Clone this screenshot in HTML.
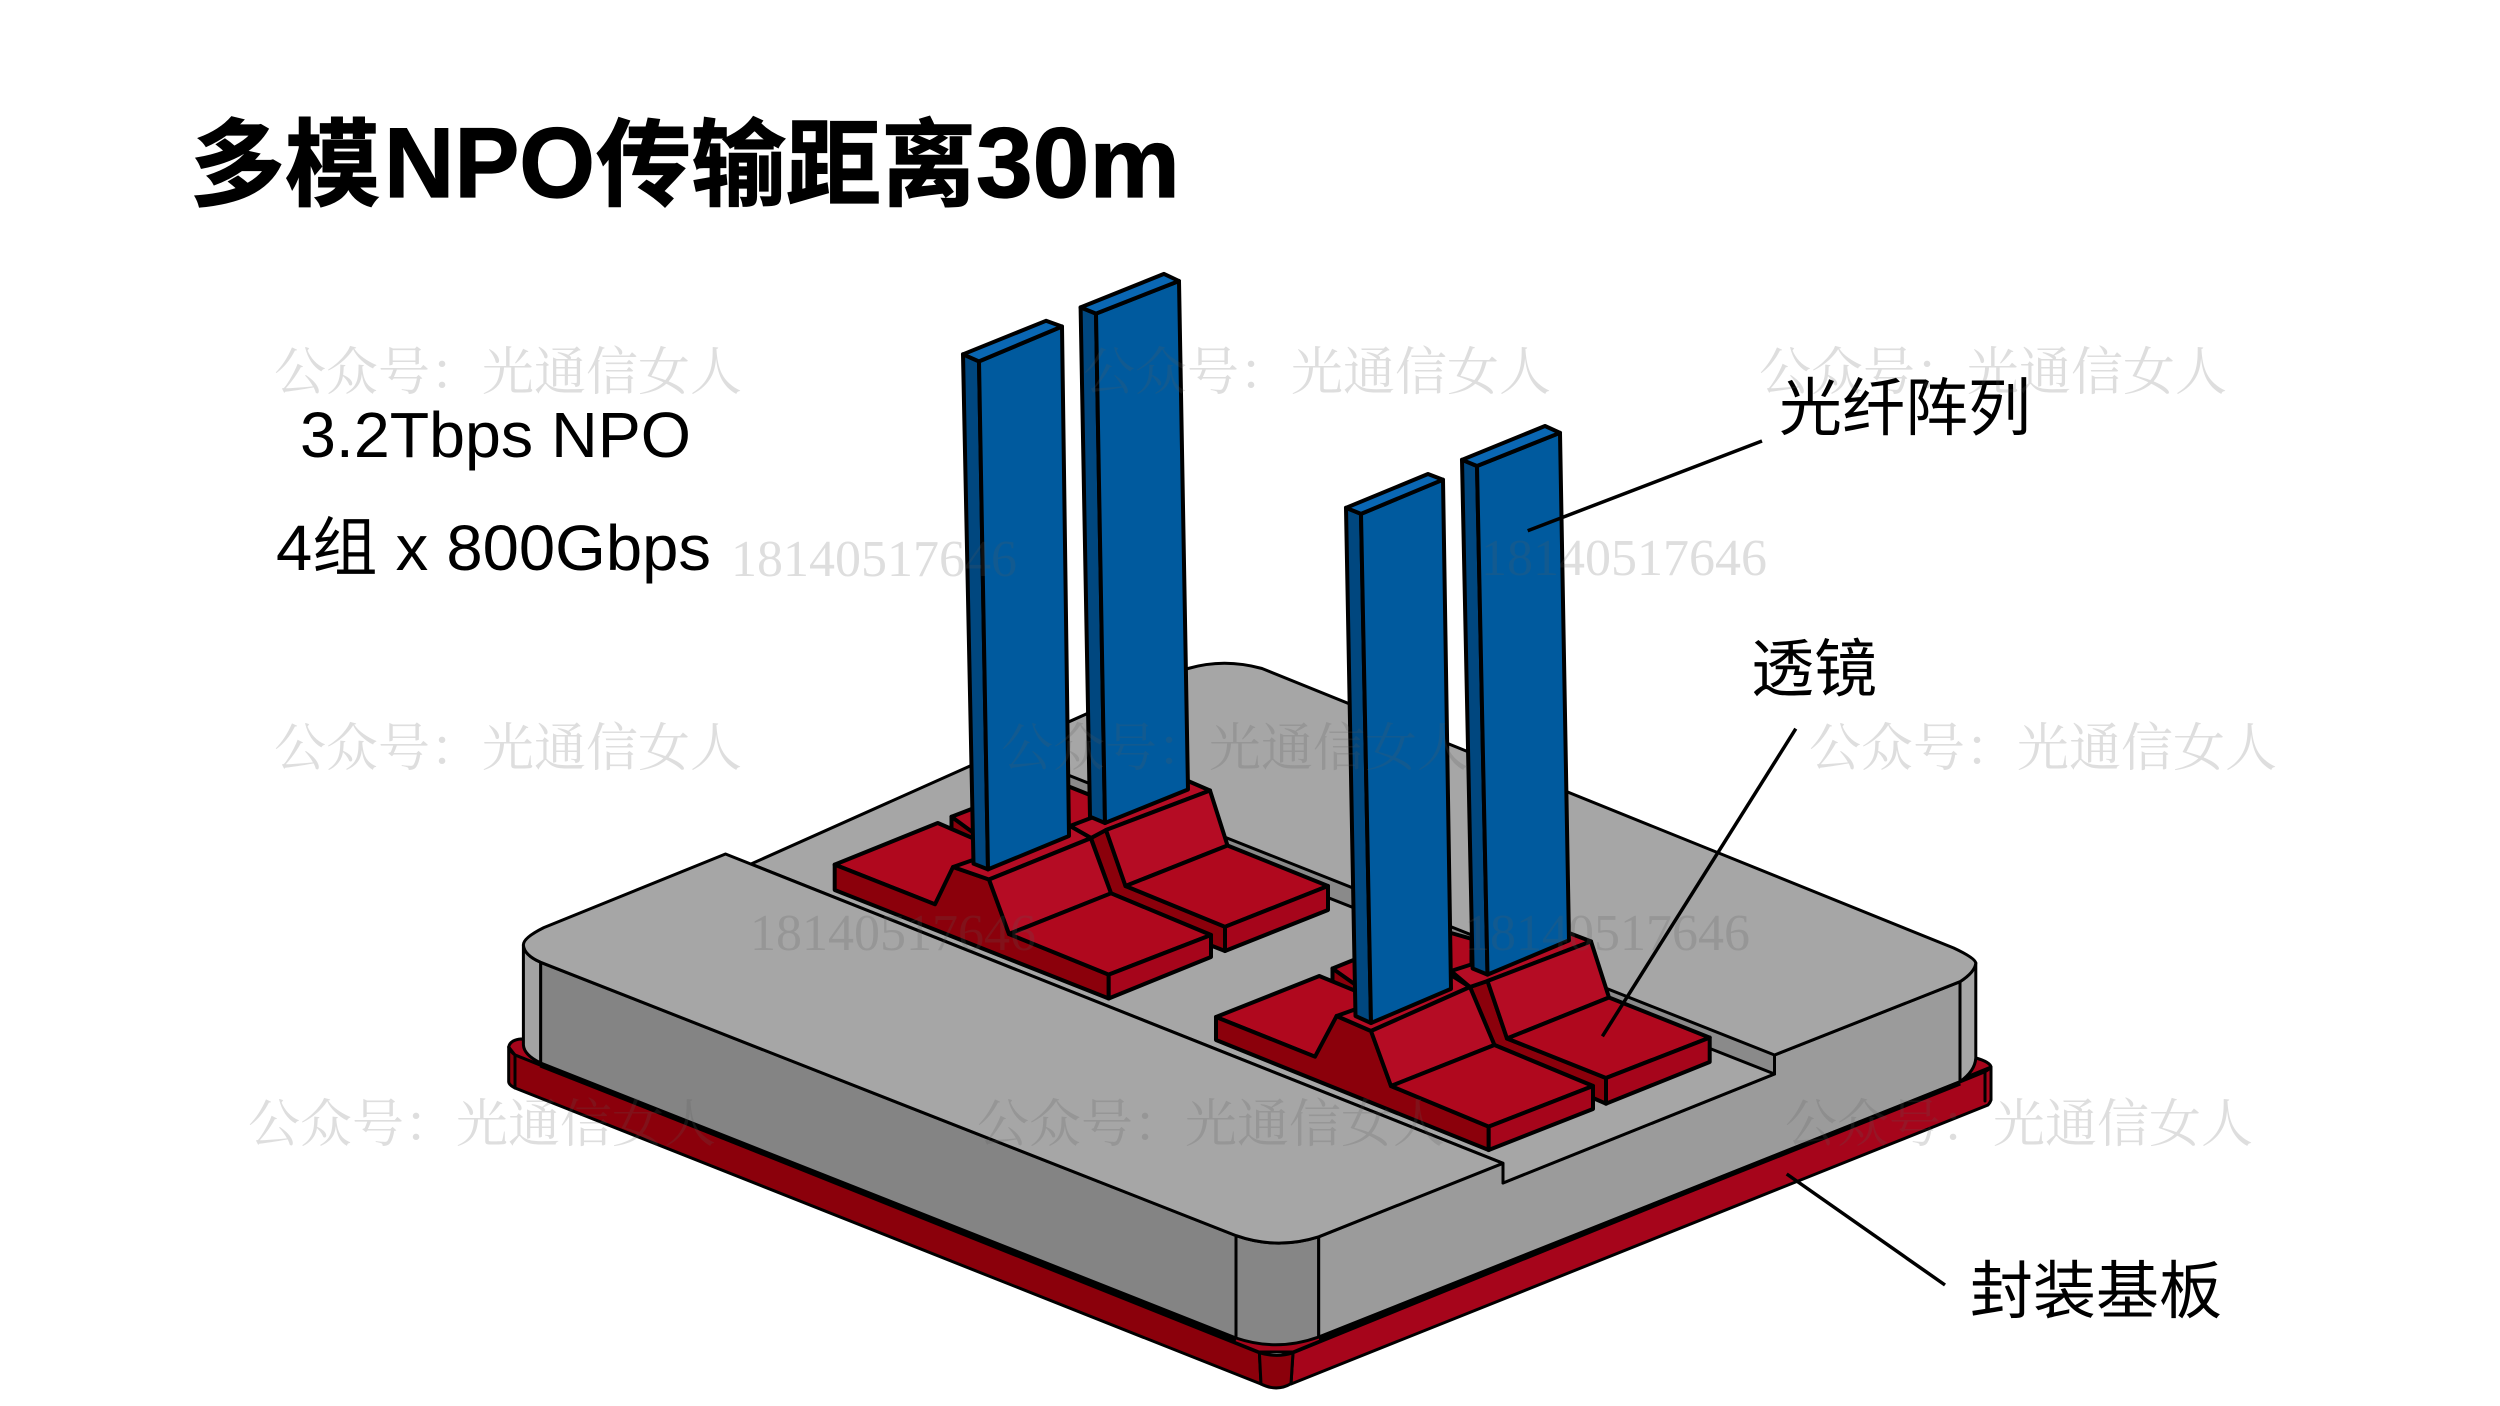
<!DOCTYPE html>
<html><head><meta charset="utf-8"><style>
html,body{margin:0;padding:0;background:#fff}
svg{display:block}
.s{stroke:#000;stroke-width:3;stroke-linejoin:round;stroke-linecap:round}
.r{stroke:#000;stroke-width:4;stroke-linejoin:round}
.t{fill:#b0081e}.h{fill:#b50c24}.d{fill:#8b000b}.e{fill:#a6051b}
.bf{fill:#005a9e}.bs{fill:#00477f}.bt{fill:#0a67b3}
.b{stroke:#000;stroke-width:4;stroke-linejoin:round}
.cn{font-family:"Liberation Sans","Noto Sans CJK SC",sans-serif;fill:#000;font-size:63px}
.ti{font-family:"Liberation Sans","Noto Sans CJK SC",sans-serif;font-weight:700;fill:#000;stroke:#000;stroke-width:1.2}
.w{font-family:"Liberation Serif","Noto Serif CJK SC",serif;font-size:52px;fill:rgba(90,90,90,.2)}
.n{font-family:"Liberation Serif",serif;font-size:52px;fill:rgba(90,90,90,.2)}
</style></head><body>
<svg width="2500" height="1406" viewBox="0 0 2500 1406" xmlns="http://www.w3.org/2000/svg">
<rect width="2500" height="1406" fill="#fff"/>

<!-- substrate -->
<path class="s e" d="M508.7,1047 Q510,1040 521,1039 L1976,1058 Q1990,1062 1991,1067 L1293,1352 L1259,1352 L515,1055 Z"/>
<path class="s d" d="M508.7,1047 Q509.5,1051 515,1055 L1259.4,1352.8 L1261,1384 L515,1088 Q509,1085 508.7,1082 Z"/>
<path class="s e" d="M1293,1352.8 L1985,1071.7 Q1990,1069 1991,1066.7 L1991,1100 Q1990,1103 1988,1105 L1291,1384 Z"/>
<path class="s d" d="M1259.4,1352.8 Q1277,1358 1293,1352.8 L1291,1383.7 Q1277,1392 1261,1384 Z"/>
<path d="M1985,1071.7 V1101" class="s" fill="none"/>
<path d="M515,1055 V1088" class="s" fill="none"/>

<!-- gray body -->
<path class="s" fill="#848484" d="M540.6,962.3 L1236,1235.6 L1236,1338 L540.6,1063 Z"/>
<path class="s" fill="#a2a2a2" d="M523.4,945 Q524,955 540.6,962.3 L540.6,1063 Q524,1055 523.4,1045 Z"/>
<path class="s" fill="#868686" d="M1236,1235.6 Q1277,1250 1318.7,1236.8 L1318.7,1337 Q1277,1352 1236,1338 Z"/>
<path class="s" fill="#9b9b9b" d="M1318.7,1236.8 L1503,1163 L1503,1183 L1774.5,1074 L1774.5,1055 L1960,981.7 L1960,1081.7 L1318.7,1337 Z"/>
<path class="s" fill="#a6a6a6" d="M1960,981.7 Q1975,972 1975.8,963 L1975.8,1058 Q1975,1071 1960,1081.7 Z"/>
<path d="M1318.7,1338.5 L1960,1083" stroke="#000" stroke-width="5" fill="none"/>
<path d="M540.6,1065 L1236,1340" stroke="#000" stroke-width="5" fill="none"/>
<path class="s" fill="#a6a6a6" d="M751,864 L1188,668.5 Q1224,658 1262,668.5 L1953.7,948 Q1975,958 1975.8,963 Q1975,972 1960,981.7 L1774.5,1055 L1774.5,1074 L1503,1183 L1503,1163.3 Z"/>
<path class="s" fill="#8a8a8a" d="M1020,756 L1774.5,1055 L1774.5,1074 L1020,776 Z"/>
<path class="s" fill="#a6a6a6" d="M725.5,854 L543.8,927.6 Q523,938 523.4,945 Q524,955 540.6,962.3 L1236,1235.6 Q1277,1250 1318.7,1236.8 L1503,1163.3 Z"/>

<!-- lens group 1 -->
<g>
<polygon class="r d" points="951.5,816.8 990,830 990,855 951.5,831"/>
<polygon class="r t" points="951.5,816.8 1052,778 1070,787 1090,795 1090,825 990,845"/>
<polygon class="r t" points="834.7,864.6 937.8,823 1000,850 935,904.3"/>
<polygon class="r d" points="834.7,864.6 935,904.3 953,867 989,879.5 1009,934 1108.7,974.6 1108.7,998.5 834.7,890"/>
<polygon class="r d" points="1091,838 1106,830 1125.5,886 1225,926.8 1225,951 1211,945.5 1211,935 1111,893.3"/>
<polygon class="r h" points="1070,826 1188,781 1210,790.5 1106,830 1091,838"/>
<polygon class="r h" points="1106,830 1210,790.5 1227.5,845.5 1125.5,886"/>
<polygon class="r t" points="1125.5,886 1227.5,845.5 1328,886 1225,926.8"/>
<polygon class="r e" points="1225,926.8 1328,886 1328,910 1225,951"/>
<polygon class="r h" points="953,867 1070,826 1091,838 989,879.5"/>
<polygon class="r h" points="989,879.5 1090.8,838.3 1111,893.3 1009,934"/>
<polygon class="r t" points="1009,934 1111,893.3 1211,935 1108.7,974.6"/>
<polygon class="r e" points="1108.7,974.6 1211,935 1211,957 1108.7,998.5"/>
</g>

<!-- lens group 2 -->
<g>
<polygon class="r d" points="1332.5,968.5 1370,980 1370,1005 1332.5,981"/>
<polygon class="r t" points="1332.5,968.5 1435,927 1451,933 1471.5,938.8 1471.5,975 1370,995"/>
<polygon class="r t" points="1216,1017 1319.3,976 1385,1003 1315,1056.7"/>
<polygon class="r d" points="1216,1017 1315,1056.7 1336.6,1016 1371,1031 1391,1086 1488.7,1126.6 1488.7,1150 1216,1040"/>
<polygon class="r d" points="1470,987 1487.5,981 1507,1038.5 1606,1078 1606,1103.7 1593,1098 1593,1086 1494.4,1045"/>
<polygon class="r h" points="1451,971 1569,933 1591,941.4 1487.5,981 1470,987"/>
<polygon class="r h" points="1487.5,981 1591,941.4 1609,997.5 1507,1038.5"/>
<polygon class="r t" points="1507,1038.5 1609,997.5 1709.7,1037.6 1606,1078"/>
<polygon class="r e" points="1606,1078 1709.7,1037.6 1709.7,1062 1606,1103.7"/>
<polygon class="r h" points="1336.6,1016 1451,975 1470,987 1371,1031"/>
<polygon class="r h" points="1371,1031 1470,987 1494.4,1045 1391,1086"/>
<polygon class="r t" points="1391,1086 1494.4,1045 1593,1086 1488.7,1126.6"/>
<polygon class="r e" points="1488.7,1126.6 1593,1086 1593,1109 1488.7,1150"/>
</g>

<!-- fibers -->
<g>
<polygon class="b bs" points="963,354.3 979,361.4 988,869.4 973.5,863.7"/>
<polygon class="b bf" points="979,361.4 1062,326.5 1069,836 988,869.4"/>
<polygon class="b bt" points="963,354.3 1046,320.8 1062,326.5 979,361.4"/>

<polygon class="b bs" points="1080.6,307.4 1096,313.6 1105,823 1090,816.7"/>
<polygon class="b bf" points="1096,313.6 1179,281 1188,789.5 1105,823"/>
<polygon class="b bt" points="1080.6,307.4 1164,273.9 1179,281 1096,313.6"/>

<polygon class="b bs" points="1346,507.8 1361,513.9 1371,1023 1355.5,1016"/>
<polygon class="b bf" points="1361,513.9 1443,479.7 1451,988.9 1371,1023"/>
<polygon class="b bt" points="1346,507.8 1428,474 1443,479.7 1361,513.9"/>

<polygon class="b bs" points="1462,459.8 1477,466 1487.5,974.6 1472.6,968.5"/>
<polygon class="b bf" points="1477,466 1560,432.8 1569,940.4 1487.5,974.6"/>
<polygon class="b bt" points="1462,459.8 1545,426 1560,432.8 1477,466"/>
</g>

<!-- leader lines -->
<g stroke="#000" stroke-width="3.5" fill="none">
<line x1="1762" y1="441" x2="1527.7" y2="530.7"/>
<line x1="1795.8" y1="728.7" x2="1602.4" y2="1036.3"/>
<line x1="1786.7" y1="1174" x2="1945" y2="1285"/>
</g>

<!-- text -->
<text class="ti" x="190" y="198" font-size="95">多模</text>
<text class="ti" x="384" y="197" font-size="99" textLength="211" lengthAdjust="spacingAndGlyphs">NPO</text>
<text class="ti" x="596" y="198" font-size="95" textLength="380" lengthAdjust="spacingAndGlyphs">传输距离</text>
<text class="ti" x="976" y="197" font-size="99" textLength="204" lengthAdjust="spacingAndGlyphs">30m</text>
<text x="300" y="457" class="cn" font-size="64" style="font-size:64px" textLength="391" lengthAdjust="spacingAndGlyphs">3.2Tbps NPO</text>
<text x="276" y="570" class="cn" style="font-size:64px" textLength="435" lengthAdjust="spacingAndGlyphs">4组 x 800Gbps</text>
<text x="1779" y="430" class="cn">光纤阵列</text>
<text x="1751" y="691" class="cn">透镜</text>
<text x="1970" y="1313" class="cn">封装基板</text>

<!-- watermarks -->
<text class="w" x="274" y="390">公众号：光通信女人</text>
<text class="w" x="1083" y="390">公众号：光通信女人</text>
<text class="w" x="1759" y="390">公众号：光通信女人</text>
<text class="w" x="274" y="766">公众号：光通信女人</text>
<text class="w" x="1001" y="766">公众号：光通信女人</text>
<text class="w" x="1809" y="766">公众号：光通信女人</text>
<text class="w" x="248" y="1142">公众号：光通信女人</text>
<text class="w" x="977" y="1142">公众号：光通信女人</text>
<text class="w" x="1785" y="1142">公众号：光通信女人</text>
<text class="n" x="731" y="576">18140517646</text>
<text class="n" x="1481" y="575">18140517646</text>
<text class="n" x="750" y="950">18140517646</text>
<text class="n" x="1464" y="950">18140517646</text>
</svg>
</body></html>
